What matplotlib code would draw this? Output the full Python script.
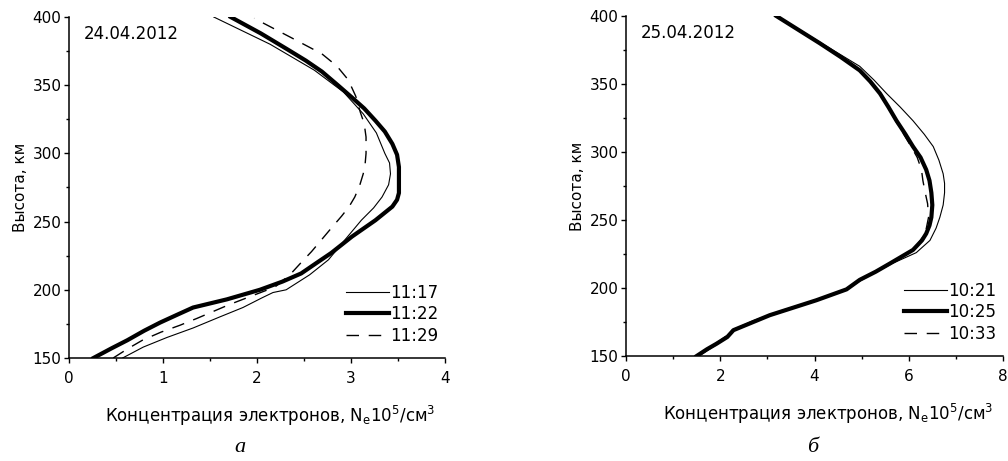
import numpy as np
import matplotlib
matplotlib.use('Agg')
import matplotlib.pyplot as plt
from matplotlib.ticker import MultipleLocator

plt.rcParams['font.family'] = ['DejaVu Sans']
plt.rcParams['mathtext.fontset'] = 'dejavusans'

# 24.04.2012
h_1117 = [150, 158, 165, 172, 180, 187, 194, 198, 200, 211, 222, 237, 251, 260, 268, 277, 285, 293, 300, 315, 329, 345, 361, 380, 400]
ne_1117 = [0.57, 0.79, 1.04, 1.32, 1.60, 1.85, 2.05, 2.17, 2.31, 2.56, 2.76, 2.94, 3.11, 3.24, 3.33, 3.40, 3.42, 3.41, 3.36, 3.27, 3.13, 2.92, 2.61, 2.14, 1.54]
h_1122 = [150, 157, 163, 170, 176, 182, 187, 193, 200, 206, 212, 220, 227, 239, 251, 261, 266, 271, 280, 290, 299, 307, 316, 324, 333, 341, 350, 360, 368, 376, 388, 400]
ne_1122 = [0.26, 0.45, 0.62, 0.80, 0.97, 1.16, 1.32, 1.68, 2.03, 2.27, 2.47, 2.64, 2.79, 3.01, 3.26, 3.44, 3.49, 3.51, 3.51, 3.51, 3.49, 3.44, 3.36, 3.26, 3.14, 3.01, 2.86, 2.69, 2.52, 2.33, 2.04, 1.72]
h_1129 = [150, 157, 163, 169, 174, 179, 184, 189, 193, 202, 211, 220, 228, 237, 246, 254, 261, 268, 276, 285, 292, 300, 312, 322, 330, 342, 354, 364, 373, 385, 399]
ne_1129 = [0.47, 0.63, 0.78, 0.98, 1.18, 1.36, 1.53, 1.70, 1.85, 2.19, 2.35, 2.47, 2.58, 2.69, 2.80, 2.90, 2.98, 3.04, 3.09, 3.13, 3.15, 3.16, 3.16, 3.14, 3.10, 3.05, 2.97, 2.85, 2.69, 2.36, 1.97]

# 25.04.2012
h_1021 = [150, 159, 164, 169, 176, 184, 191, 199, 206, 218, 226, 235, 244, 252, 261, 270, 277, 284, 294, 304, 313, 323, 333, 343, 353, 363, 371, 380, 390, 400]
ne_1021 = [1.55, 1.95, 2.15, 2.25, 2.70, 3.35, 4.00, 4.70, 5.00, 5.65, 6.16, 6.45, 6.58, 6.66, 6.73, 6.76, 6.76, 6.73, 6.64, 6.52, 6.33, 6.09, 5.82, 5.53, 5.26, 4.96, 4.58, 4.15, 3.68, 3.19]
h_1025 = [150, 155, 159, 164, 169, 176, 180, 184, 191, 199, 206, 212, 218, 228, 235, 240, 246, 252, 261, 270, 279, 287, 296, 304, 313, 323, 333, 343, 352, 360, 370, 380, 390, 400]
ne_1025 = [1.50, 1.72, 1.92, 2.15, 2.28, 2.77, 3.05, 3.41, 4.04, 4.68, 4.96, 5.30, 5.60, 6.09, 6.28, 6.37, 6.44, 6.48, 6.50, 6.48, 6.44, 6.37, 6.25, 6.09, 5.93, 5.74, 5.57, 5.39, 5.18, 4.96, 4.55, 4.11, 3.65, 3.19]
h_1033 = [150, 159, 169, 176, 184, 191, 199, 206, 218, 228, 240, 252, 262, 270, 279, 287, 296, 304, 323, 343, 360, 380, 400]
ne_1033 = [1.52, 1.90, 2.30, 2.75, 3.38, 4.02, 4.65, 5.00, 5.62, 6.10, 6.35, 6.42, 6.40, 6.35, 6.30, 6.27, 6.18, 6.05, 5.72, 5.40, 4.98, 4.12, 3.17]

xlabel = u'Концентрация электронов, N$_\\mathregular{e}$10$^\\mathregular{5}$/см$^\\mathregular{3}$'

fig = plt.figure(figsize=(10.08, 4.61), dpi=100)
ax1 = fig.add_axes([69 / 1008, 1 - 358 / 461, 376 / 1008, 341 / 461])
ax2 = fig.add_axes([626 / 1008, 1 - 356 / 461, 377 / 1008, 340 / 461])


def style_axis(ax, xmax, xmajor, xminor, date):
    ax.set_xlim(0, xmax)
    ax.set_ylim(150, 400)
    ax.xaxis.set_major_locator(MultipleLocator(xmajor))
    ax.xaxis.set_minor_locator(MultipleLocator(xminor))
    ax.yaxis.set_major_locator(MultipleLocator(50))
    ax.yaxis.set_minor_locator(MultipleLocator(25))
    for s in ['top', 'right']:
        ax.spines[s].set_visible(False)
    for s in ['left', 'bottom']:
        ax.spines[s].set_linewidth(1.1)
    ax.tick_params(which='major', direction='out', length=3.5, width=1, labelsize=11)
    ax.tick_params(axis='x', which='major', pad=6)
    ax.tick_params(axis='y', which='major', pad=2)
    ax.tick_params(which='minor', direction='out', length=2.2, width=1)
    ax.set_ylabel(u'Высота, км', fontsize=11, labelpad=3)
    ax.set_xlabel(xlabel, fontsize=12)
    ax.xaxis.set_label_coords(0.535, -0.135)
    ax.text(0.04, 0.95, date, transform=ax.transAxes, fontsize=12, va='center', ha='left')


ax1.plot(ne_1117, h_1117, color='black', lw=0.8, label='11:17')
ax1.plot(ne_1122, h_1122, color='black', lw=3.0, label='11:22')
ax1.plot(ne_1129, h_1129, color='black', lw=1.0, dashes=(9, 7), label='11:29')
style_axis(ax1, 4, 1, 0.5, '24.04.2012')

ax2.plot(ne_1021, h_1021, color='black', lw=0.8, label='10:21')
ax2.plot(ne_1025, h_1025, color='black', lw=3.0, label='10:25')
ax2.plot(ne_1033, h_1033, color='black', lw=1.0, dashes=(9, 7), label='10:33')
style_axis(ax2, 8, 2, 1, '25.04.2012')

for ax in [ax1, ax2]:
    ax.legend(loc='lower right', bbox_to_anchor=(1.0, 0.02), frameon=False, fontsize=12,
              handlelength=2.6, handletextpad=0.05, borderaxespad=0, labelspacing=0.2)

fig.text(240 / 1008, 1 - 447 / 461, u'а', family='Liberation Serif', style='italic',
         fontsize=16, ha='center', va='center')
fig.text(813 / 1008, 1 - 447 / 461, u'б', family='Liberation Serif', style='italic',
         fontsize=16, ha='center', va='center')

fig.savefig('out.png', dpi=100)
